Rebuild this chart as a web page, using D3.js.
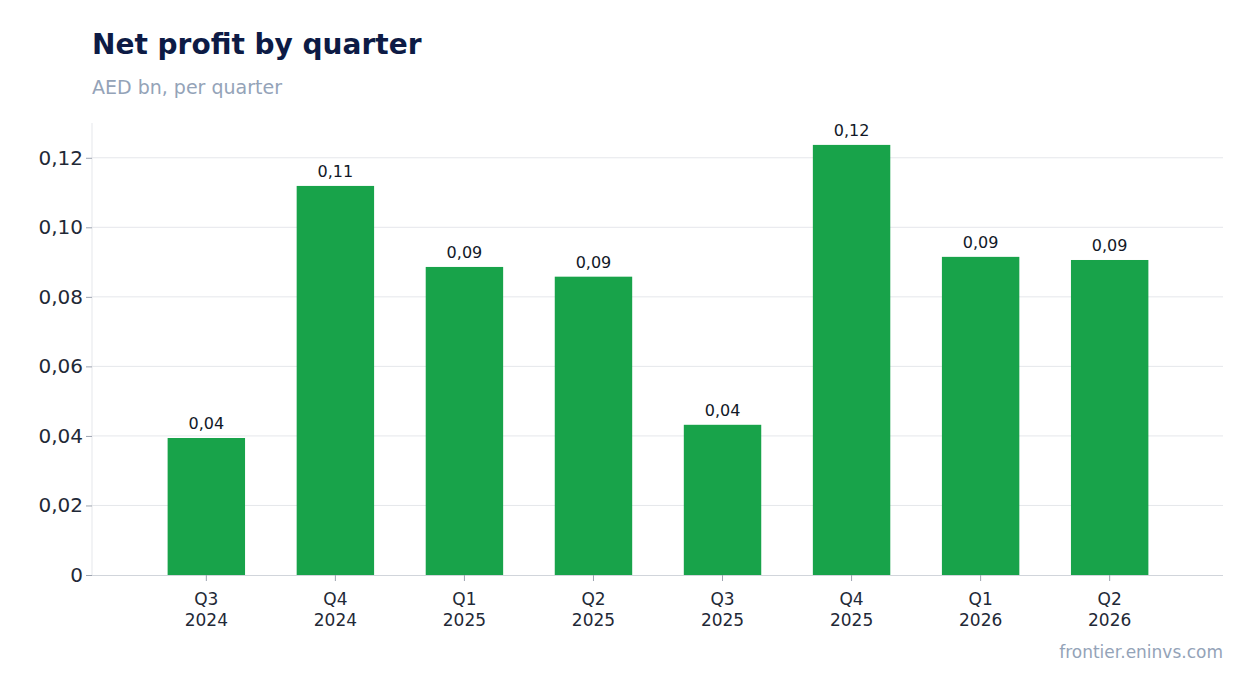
<!DOCTYPE html>
<html><head><meta charset="utf-8">
<script src="https://cdn.jsdelivr.net/npm/d3@7"></script>
<style>
body{margin:0;background:#fff;font-family:"DejaVu Sans",sans-serif}
</style></head><body>
<svg id="chart" width="1254" height="693"></svg>
<script>
const quarters = ["Q3", "Q4", "Q1", "Q2", "Q3", "Q4", "Q1", "Q2"]
const years = ["2024", "2024", "2025", "2025", "2025", "2025", "2026", "2026"]
const profit = [0.0394, 0.1119, 0.0886, 0.0858, 0.0432, 0.1237, 0.0915, 0.0906]
const yTicks = [0, 0.02, 0.04, 0.06, 0.08, 0.10, 0.12]

const svg = d3.select('#chart')
const fmt = v => v === 0 ? '0' : d3.format('.2f')(v).replace('.', ',')

const x = d3.scaleBand().domain(d3.range(profit.length)).range([116, 1200]).padding(0.4)
const y = d3.scaleLinear().domain([0, 0.13]).range([575, 123])

svg.append('text').attr('x', 92).attr('y', 54)
  .attr('font-size', 28).attr('font-weight', 'bold').attr('fill', '#0d1b45')
  .text('Net profit by quarter')
svg.append('text').attr('x', 92).attr('y', 94)
  .attr('font-size', 19).attr('fill', '#94a3b8')
  .text('AED bn, per quarter')

// grid
svg.append('g').selectAll('line').data(yTicks.slice(1)).join('line')
  .attr('x1', 92).attr('x2', 1223)
  .attr('y1', d => y(d)).attr('y2', d => y(d))
  .attr('stroke', '#e5e7eb')

svg.append('line').attr('x1', 92).attr('x2', 92).attr('y1', 123).attr('y2', 575).attr('stroke', '#e5e7eb')
svg.append('line').attr('x1', 92).attr('x2', 1223).attr('y1', 575.5).attr('y2', 575.5).attr('stroke', '#d1d5db')

// y axis
const yAxis = svg.append('g').attr('transform', 'translate(92,0)')
  .call(d3.axisLeft(y).tickValues(yTicks).tickFormat(fmt).tickSize(6))
yAxis.select('.domain').remove()
yAxis.selectAll('line').attr('stroke', '#9ca3af')
yAxis.selectAll('text').attr('font-size', 20).attr('fill', '#1f2937').attr('font-family', 'DejaVu Sans')

// bars
svg.append('g').selectAll('rect').data(profit).join('rect')
  .attr('x', (d, i) => x(i)).attr('width', x.bandwidth())
  .attr('y', d => y(d)).attr('height', d => y(0) - y(d))
  .attr('fill', '#18a34a')

svg.append('g').selectAll('text').data(profit).join('text')
  .attr('x', (d, i) => x(i) + x.bandwidth() / 2).attr('y', d => y(d) - 9)
  .attr('text-anchor', 'middle').attr('font-size', 16).attr('fill', '#111827')
  .text(d => fmt(d))

// x axis
const xg = svg.append('g').selectAll('g').data(profit).join('g')
  .attr('transform', (d, i) => `translate(${x(i) + x.bandwidth() / 2},575)`)
xg.append('line').attr('y2', 6).attr('stroke', '#9ca3af')
xg.append('text').attr('y', 30).attr('text-anchor', 'middle').attr('font-size', 17).attr('fill', '#1f2937')
  .text((d, i) => quarters[i])
xg.append('text').attr('y', 51).attr('text-anchor', 'middle').attr('font-size', 17).attr('fill', '#1f2937')
  .text((d, i) => years[i])

svg.append('text').attr('x', 1223).attr('y', 658).attr('text-anchor', 'end')
  .attr('font-size', 17).attr('fill', '#94a3b8').text('frontier.eninvs.com')
</script>
</body></html>
